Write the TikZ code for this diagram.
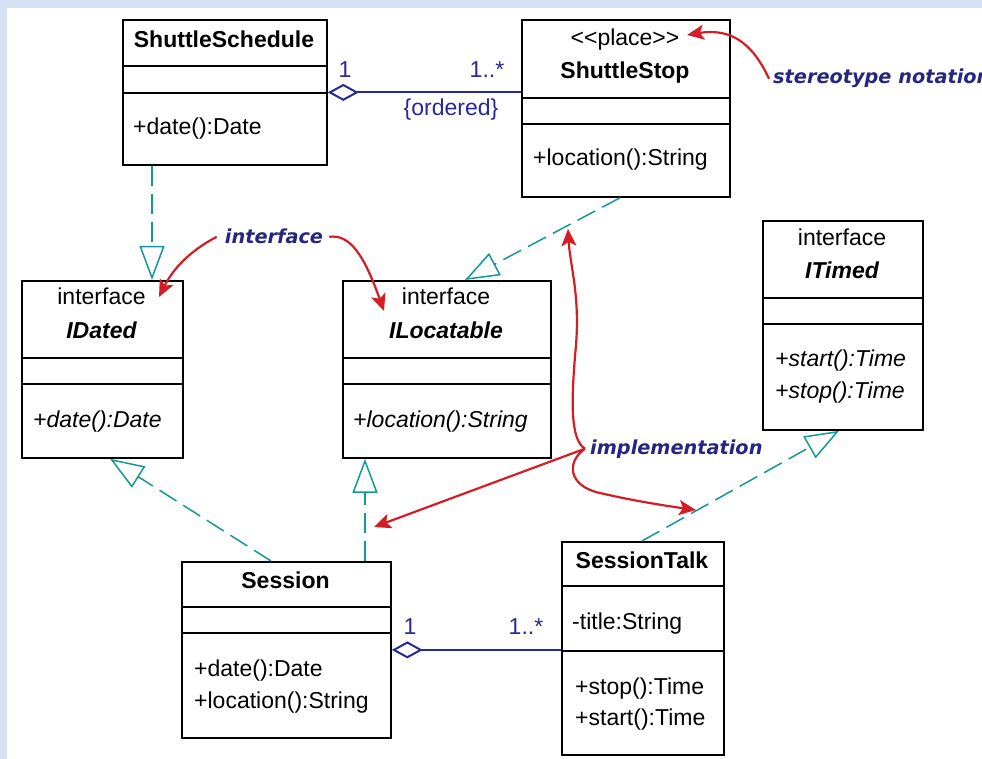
\documentclass[tikz,border=0pt]{standalone}
\usepackage{fontspec}
\setmainfont{Liberation Sans}
\newfontfamily\notefont{DejaVu Sans}
\usetikzlibrary{arrows.meta,calc}
\definecolor{umlteal}{RGB}{20,152,152}
\definecolor{umlnavy}{RGB}{40,40,150}
\definecolor{notenavy}{RGB}{38,38,130}
\definecolor{notered}{RGB}{212,30,38}
\definecolor{edgeblue}{RGB}{212,226,244}
\newcommand{\umlsize}{\fontsize{23}{32}\selectfont}
\newcommand{\notesize}{\fontsize{19.3}{24}\selectfont}
\begin{document}
\begin{tikzpicture}[x=1pt,y=-1pt,
  cls/.style={draw, line width=1.8pt, inner sep=0pt, anchor=north west, fill=white},
  divider/.style={line width=1.8pt},
  lbl/.style={inner sep=0pt, font=\umlsize},
  title/.style={inner sep=0pt, font=\umlsize\bfseries},
  ititle/.style={inner sep=0pt, font=\umlsize\bfseries\itshape},
  iop/.style={inner sep=0pt, font=\umlsize\itshape},
  mult/.style={inner sep=0pt, font=\umlsize, text=umlnavy},
  note/.style={inner sep=0pt, font=\notefont\notesize\bfseries\itshape, text=notenavy},
  real/.style={draw=umlteal, line width=1.5pt, dash pattern=on 20pt off 8pt,
    -{Triangle[open, length=34pt, width=25pt, fill=white]}},
  assoc/.style={draw=umlnavy, line width=2pt,
    {Diamond[open, length=31pt, width=17pt, fill=white]}-},
  pointer/.style={draw=notered, line width=2.2pt,
    -{Stealth[length=17pt, width=15pt, inset=4pt]}}
]
% page and the pale blue frame along the top and left edges
\fill[white] (0,0) rectangle (982,759);
\fill[edgeblue] (0,0) rectangle (982,8);
\fill[edgeblue] (0,0) rectangle (7,759);
\useasboundingbox (0,0) rectangle (982,759);

% ---------- classes ----------
\node[cls, minimum width=204pt, minimum height=145pt] (sched) at (122,19) {};
\draw[divider] (122,66) -- (326,66);
\draw[divider] (122,93) -- (326,93);
\node[title, anchor=base] (schedname) at (224,48) {ShuttleSchedule};
\node[lbl, anchor=base west] (schedop) at (133,135) {+date():Date};

\node[cls, minimum width=208pt, minimum height=177pt] (stop) at (521,19) {};
\draw[divider] (521,98) -- (729,98);
\draw[divider] (521,124) -- (729,124);
\node[lbl, anchor=base] (stopster) at (625,46) {<{}<place>{}>};
\node[title, anchor=base] (stopname) at (625,79) {ShuttleStop};
\node[lbl, anchor=base west] (stopop) at (533,166) {+location():String};

\node[cls, minimum width=161pt, minimum height=177pt] (idated) at (21,280) {};
\draw[divider] (21,358) -- (182,358);
\draw[divider] (21,384) -- (182,384);
\node[lbl, anchor=base] (idatedkind) at (101.5,305) {interface};
\node[ititle, anchor=base] (idatedname) at (101.5,338) {IDated};
\node[iop, anchor=base west] (idatedop) at (33,427) {+date():Date};

\node[cls, minimum width=208pt, minimum height=177pt] (iloc) at (342,280) {};
\draw[divider] (342,358) -- (550,358);
\draw[divider] (342,384) -- (550,384);
\node[lbl, anchor=base] (ilockind) at (446,305) {interface};
\node[ititle, anchor=base] (ilocname) at (446,338) {ILocatable};
\node[iop, anchor=base west] (ilocop) at (353,427) {+location():String};

\node[cls, minimum width=160pt, minimum height=209pt] (itimed) at (762,220) {};
\draw[divider] (762,298) -- (922,298);
\draw[divider] (762,324) -- (922,324);
\node[lbl, anchor=base] (itimedkind) at (842,246) {interface};
\node[ititle, anchor=base] (itimedname) at (842,279) {ITimed};
\node[iop, anchor=base west] (itimedopa) at (775,366) {+start():Time};
\node[iop, anchor=base west] (itimedopb) at (775,398) {+stop():Time};

\node[cls, minimum width=209pt, minimum height=176pt] (session) at (181,561) {};
\draw[divider] (181,607) -- (390,607);
\draw[divider] (181,633) -- (390,633);
\node[title, anchor=base] (sessionname) at (285.5,588) {Session};
\node[lbl, anchor=base west] (sessionopa) at (194,676) {+date():Date};
\node[lbl, anchor=base west] (sessionopb) at (194,708) {+location():String};

\node[cls, minimum width=162pt, minimum height=213pt] (talk) at (561,541) {};
\draw[divider] (561,586) -- (723,586);
\draw[divider] (561,651) -- (723,651);
\node[title, anchor=base] (talkname) at (642,568) {SessionTalk};
\node[lbl, anchor=base west] (talkattr) at (572,629) {-title:String};
\node[lbl, anchor=base west] (talkopa) at (575,694) {+stop():Time};
\node[lbl, anchor=base west] (talkopb) at (575,725) {+start():Time};

% ---------- realizations ----------
\draw[real] ([xshift=30pt]sched.south west) -- ([xshift=131pt]idated.north west);
\draw[real] ([xshift=99pt]stop.south west) -- ([xshift=123pt]iloc.north west);
\draw[real] ([xshift=90pt]session.north west) -- ([xshift=89pt]idated.south west);
\draw[real] ([xshift=184pt]session.north west) -- ([xshift=23pt]iloc.south west);
\draw[real] ([xshift=81pt]talk.north west) -- ([xshift=77pt]itimed.south west);

% ---------- aggregations ----------
\draw[assoc] (sched.east) -- (sched.east -| stop.west);
\node[mult, anchor=base] (m1) at (345,78) {1};
\node[mult, anchor=base] (m2) at (487,78) {1..*};
\node[mult, anchor=base] (ord) at (451,116) {\{ordered\}};

\draw[assoc] (session.east) -- (session.east -| talk.west);
\node[mult, anchor=base] (m3) at (410,634) {1};
\node[mult, anchor=base] (m4) at (526,634) {1..*};

% ---------- annotations ----------
\node[note, anchor=base west] (stereo) at (773,84) {stereotype notation};
\node[note, anchor=base] (iface) at (274,244) {interface};
\node[note, anchor=base west] (impl) at (590,454) {implementation};

\coordinate (stereotip) at (687,35);
\coordinate (idatedtip) at (159,297);
\coordinate (iloctip) at (384,311);
\coordinate (uptip) at (568,229);
\coordinate (righttip) at (696,510);
\coordinate (lefttip) at (374,527);
\coordinate (fork) at ([xshift=-5pt]impl.west);

\draw[pointer] ([xshift=-4pt]stereo.west) .. controls (752,42) and (730,28) .. (stereotip);
\draw[pointer] ([xshift=-8pt]iface.west) .. controls (195,248) and (175,265) .. (idatedtip);
\draw[pointer] ([xshift=6pt]iface.east) .. controls (350,234) and (364,255) .. (iloctip);
\draw[pointer] (fork) .. controls (570,440) and (571,400) .. (576,345)
  .. controls (580,295) and (570,265) .. (uptip);
\draw[pointer] (fork) .. controls (566,462) and (568,486) .. (600,493)
  .. controls (630,500) and (660,505) .. (righttip);
\draw[pointer] (fork) -- (lefttip);
\end{tikzpicture}
\end{document}
